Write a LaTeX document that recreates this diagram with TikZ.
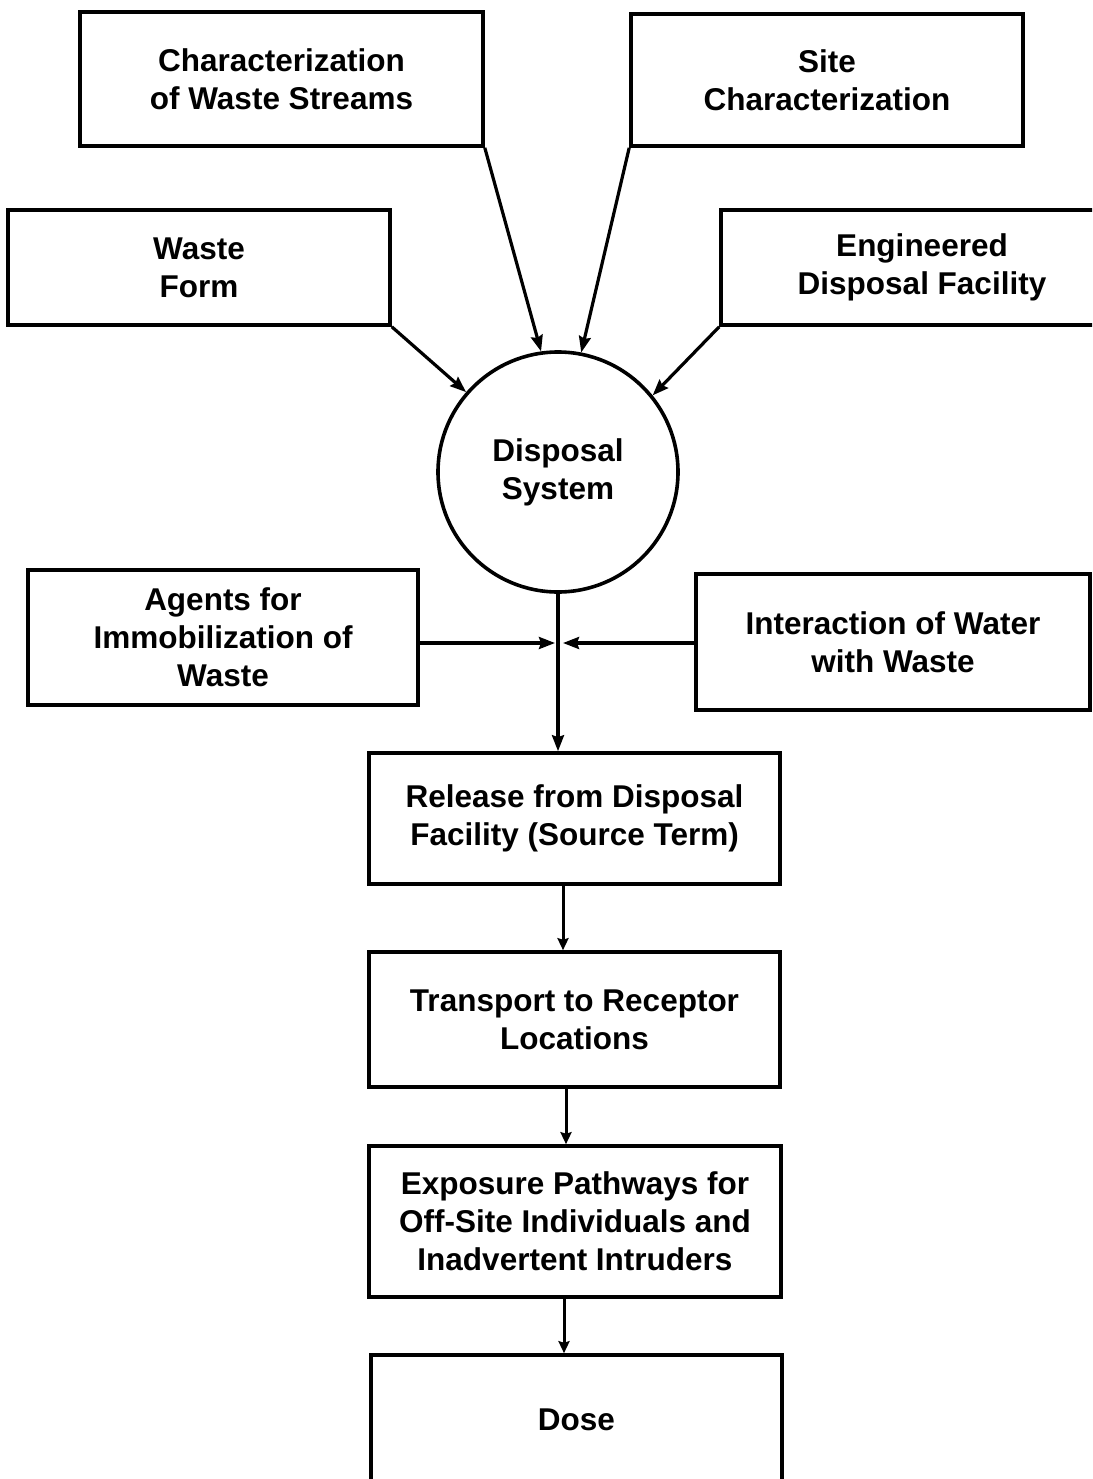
\documentclass[tikz,border=0pt]{standalone}
\usepackage{fontspec}
\setmainfont{Liberation Sans}
\usetikzlibrary{arrows.meta,calc}
\begin{document}
\begin{tikzpicture}[x=1pt,y=-1pt,
  box/.style={draw=black,line width=3.6pt,rectangle,inner sep=0pt,align=center,
    font=\fontsize{31.5}{38}\selectfont\bfseries},
  arr/.style={line width=3.2pt,-{Stealth[length=16pt,width=12pt,inset=2pt]}},
  sarr/.style={line width=3pt,-{Stealth[length=12pt,width=11pt,inset=1.5pt]}}]
\fill[white] (0,0) rectangle (1092,1479);
\useasboundingbox (0,0) rectangle (1092,1479);
\begin{scope}
\clip (0,0) rectangle (1092,1479);
\node[box,minimum width=403pt,minimum height=134pt] (cws) at (281.5,79) {Characterization\\of Waste Streams};
\node[box,minimum width=392pt,minimum height=132pt] (site) at (827,80) {Site\\Characterization};
\node[box,minimum width=382pt,minimum height=115pt] (wf) at (199,267.5) {Waste\\Form};
\node[box,minimum width=402pt,minimum height=115pt] (edf) at (922,267.5) {Engineered\\Disposal Facility};
\node[draw=black,line width=3.6pt,circle,minimum size=240pt,inner sep=0pt,align=center,
  font=\fontsize{31.5}{38}\selectfont\bfseries] (disp) at (558,472) {Disposal\\System};
\node[box,minimum width=390pt,minimum height=135pt] (agents) at (223,637.5) {Agents for\\Immobilization of\\Waste};
\node[box,minimum width=394pt,minimum height=136pt] (water) at (893,642) {Interaction of Water\\with Waste};
\node[box,minimum width=411pt,minimum height=131pt] (release) at (574.5,818.5) {Release from Disposal\\Facility (Source Term)};
\node[box,minimum width=411pt,minimum height=135pt] (transport) at (574.5,1019.5) {Transport to Receptor\\Locations};
\node[box,minimum width=412pt,minimum height=151pt] (exposure) at (575,1221.5) {Exposure Pathways for\\Off-Site Individuals and\\Inadvertent Intruders};
\node[box,minimum width=411pt,minimum height=130pt] (dose) at (576.5,1420) {Dose};
\end{scope}
\coordinate (jl) at (555,643);
\coordinate (jr) at (563,643);
\draw[arr] (cws.south east) -- (disp.98);
\draw[arr] (site.south west) -- (disp.79);
\draw[arr] (wf.south east) -- (disp.139);
\draw[arr] (edf.south west) -- (disp.39);
\draw[arr] (disp.south) -- (disp.south |- release.north);
\draw[arr] (agents.east |- jl) -- (jl);
\draw[arr] (water.west |- jr) -- (jr);
\draw[sarr] ([xshift=-11.5pt]release.south) -- ([xshift=-11.5pt]release.south |- transport.north);
\draw[sarr] ([xshift=-8.5pt]transport.south) -- ([xshift=-8.5pt]transport.south |- exposure.north);
\draw[sarr] ([xshift=-11pt]exposure.south) -- ([xshift=-11pt]exposure.south |- dose.north);
\end{tikzpicture}
\end{document}
